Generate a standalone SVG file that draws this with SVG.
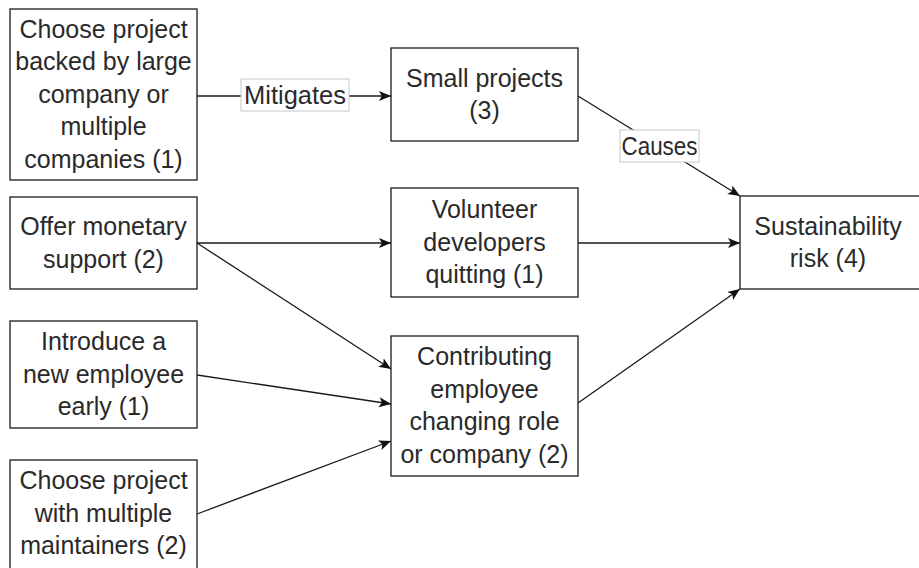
<svg xmlns="http://www.w3.org/2000/svg" width="919" height="568" viewBox="0 0 919 568">
  <style>
    .box { fill: #ffffff; stroke: #1a1a1a; stroke-width: 1.3; }
    .lbl { fill: #ffffff; stroke: #c8c8c8; stroke-width: 1; }
    .t { font-family: "Liberation Sans", Arial, sans-serif; font-size: 25px; fill: #2a2a2a; text-anchor: middle; }
    .edge { fill: none; stroke: #1a1a1a; stroke-width: 1.3; marker-end: url(#arrow); }
  </style>
  <defs>
    <marker id="arrow" markerUnits="userSpaceOnUse" markerWidth="13" markerHeight="11" refX="12" refY="5" orient="auto">
      <path d="M0,0 L12,5 L0,10 L2.8,5 z" fill="#111111"/>
    </marker>
  </defs>
  <rect width="919" height="568" fill="#ffffff"/>

  <!-- connectors -->
  <g id="edges">
    <line class="edge" x1="197" y1="96" x2="391" y2="96"/>
    <line class="edge" x1="578" y1="96" x2="740" y2="196"/>
    <line class="edge" x1="578" y1="243" x2="740" y2="243"/>
    <line class="edge" x1="578" y1="403" x2="740" y2="289"/>
    <line class="edge" x1="197" y1="243" x2="391" y2="243"/>
    <line class="edge" x1="197" y1="243" x2="391" y2="369"/>
    <line class="edge" x1="197" y1="375" x2="391" y2="404"/>
    <line class="edge" x1="197" y1="514" x2="391" y2="441"/>
    <g id="label-mitigates">
      <rect class="lbl" x="241" y="79" width="108" height="32"/>
      <text class="t" x="295" y="103.5" textLength="102" lengthAdjust="spacingAndGlyphs">Mitigates</text>
    </g>
    <g id="label-causes">
      <rect class="lbl" x="620" y="130" width="79" height="32"/>
      <text class="t" x="659.5" y="154.5" textLength="76" lengthAdjust="spacingAndGlyphs">Causes</text>
    </g>
  </g>

  <g id="n-backed">
    <rect class="box" x="10" y="9" width="187" height="171"/>
    <text class="t" x="103.5" y="37.5">Choose project</text>
    <text class="t" x="103.5" y="70">backed by large</text>
    <text class="t" x="103.5" y="102.5">company or</text>
    <text class="t" x="103.5" y="135">multiple</text>
    <text class="t" x="103.5" y="167.5">companies (1)</text>
  </g>

  <g id="n-monetary">
    <rect class="box" x="10" y="197" width="187" height="92"/>
    <text class="t" x="103.5" y="235">Offer monetary</text>
    <text class="t" x="103.5" y="267.5">support (2)</text>
  </g>

  <g id="n-employee">
    <rect class="box" x="10" y="321" width="187" height="107"/>
    <text class="t" x="103.5" y="350">Introduce a</text>
    <text class="t" x="103.5" y="382.5">new employee</text>
    <text class="t" x="103.5" y="415">early (1)</text>
  </g>

  <g id="n-maintainers">
    <rect class="box" x="10" y="460" width="187" height="116"/>
    <text class="t" x="103.5" y="489">Choose project</text>
    <text class="t" x="103.5" y="521.5">with multiple</text>
    <text class="t" x="103.5" y="554">maintainers (2)</text>
  </g>

  <g id="n-small">
    <rect class="box" x="391" y="48" width="187" height="93"/>
    <text class="t" x="484.5" y="86.5">Small projects</text>
    <text class="t" x="484.5" y="119">(3)</text>
  </g>

  <g id="n-volunteer">
    <rect class="box" x="391" y="188" width="187" height="109"/>
    <text class="t" x="484.5" y="218">Volunteer</text>
    <text class="t" x="484.5" y="250.5">developers</text>
    <text class="t" x="484.5" y="283">quitting (1)</text>
  </g>

  <g id="n-contributing">
    <rect class="box" x="391" y="336" width="187" height="140"/>
    <text class="t" x="484.5" y="365">Contributing</text>
    <text class="t" x="484.5" y="397.5">employee</text>
    <text class="t" x="484.5" y="430">changing role</text>
    <text class="t" x="484.5" y="462.5">or company (2)</text>
  </g>

  <g id="n-sustainability">
    <rect class="box" x="740" y="196" width="200" height="93"/>
    <text class="t" x="828" y="234.5">Sustainability</text>
    <text class="t" x="828" y="267">risk (4)</text>
  </g>
</svg>
